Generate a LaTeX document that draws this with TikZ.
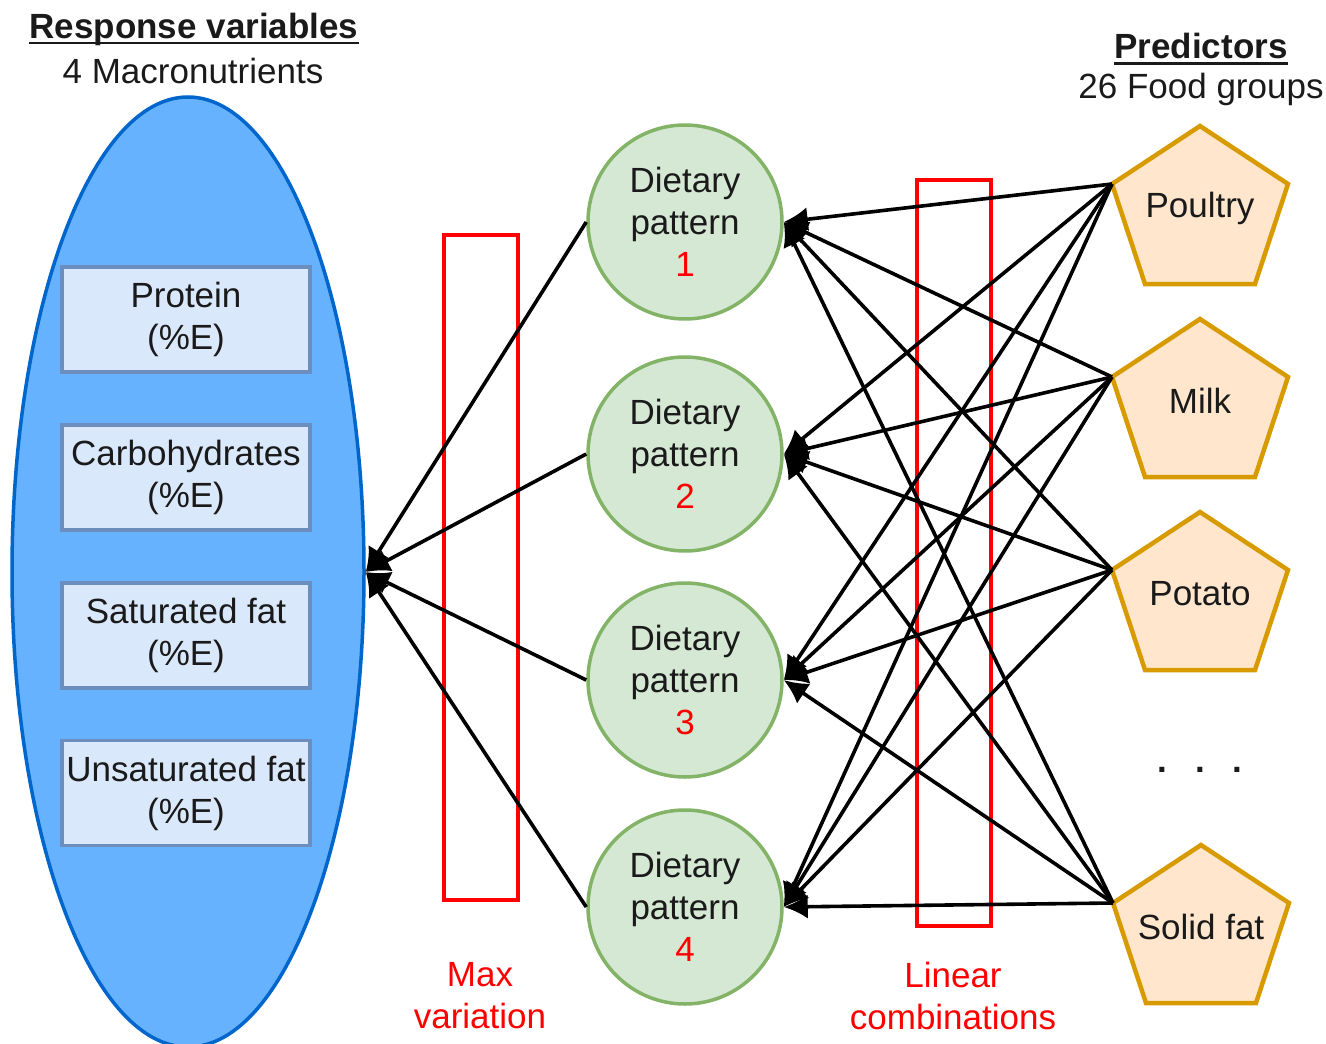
\documentclass[tikz,border=0pt]{standalone}
\usepackage{fontspec}
\setmainfont{Liberation Sans}
\usetikzlibrary{shapes.geometric,arrows.meta}
\definecolor{ellfill}{HTML}{66B2FF}
\definecolor{elldraw}{HTML}{0066CC}
\definecolor{boxfill}{HTML}{DAE8FC}
\definecolor{boxdraw}{HTML}{6C8EBF}
\definecolor{circfill}{HTML}{D5E8D4}
\definecolor{circdraw}{HTML}{82B366}
\definecolor{pentfill}{HTML}{FFE6CC}
\definecolor{pentdraw}{HTML}{D79B00}
\definecolor{txtcol}{HTML}{1A1A1A}
\begin{document}
\begin{tikzpicture}[x=1pt,y=-1pt,
  txt/.style={font=\fontsize{35}{42}\selectfont, text=txtcol, align=center, inner sep=0pt},
  respbox/.style={txt, draw=boxdraw, fill=boxfill, line width=3.5pt, minimum width=248pt, minimum height=105pt},
  dpnode/.style={txt, circle, draw=circdraw, fill=circfill, line width=3.5pt, minimum size=194pt},
  redbox/.style={draw=red, line width=4pt, inner sep=0pt},
  redlabel/.style={txt, text=red},
  edge/.style={line width=3.6pt, -{Latex[length=24pt,width=24pt]}},
  uline/.style={line width=2.5pt, draw=txtcol},
  pentstyle/.style={draw=pentdraw, fill=pentfill, line width=4.5pt, line join=miter},
  pent/.pic={
    \draw[pentstyle] (0,0) -- (88,58) -- (55,158) -- (-55,158) -- (-88,58) -- cycle;
    \coordinate (-w) at (-88,58);
    \node[txt] (-t) at (0,82) {#1};
  }]
\useasboundingbox (0,0) rectangle (1326,1044);
\clip (0,0) rectangle (1326,1044);

% headers
\node[txt] (resphead) at (194,29) {\bfseries Response variables};
\draw[uline] ([yshift=-5pt]resphead.base west) -- ([yshift=-5pt]resphead.base east);
\node[txt] (respsub) at (193,71) {4 Macronutrients};
\node[txt] (predhead) at (1201,46) {\bfseries Predictors};
\draw[uline] ([yshift=-5pt]predhead.base west) -- ([yshift=-5pt]predhead.base east);
\node[txt] (predsub) at (1201,89) {26 Food groups};

% response ellipse
\node[ellipse, draw=elldraw, fill=ellfill, line width=3.5pt, inner sep=0pt,
      minimum width=352pt, minimum height=950pt] (resp) at (188,572) {};
\node[respbox] (protein) at (186,319.5) {Protein\\(\%E)};
\node[respbox] (carb) at (186,477.5) {Carbohydrates\\(\%E)};
\node[respbox] (satfat) at (186,635.5) {Saturated fat\\(\%E)};
\node[respbox] (unsatfat) at (186,793) {Unsaturated fat\\(\%E)};

% red boxes
\node[redbox, minimum width=74pt, minimum height=665pt] (maxbox) at (481,567.5) {};
\node[redbox, minimum width=74pt, minimum height=746pt] (linbox) at (954,553) {};
\node[redlabel] (maxlab) at (480,996) {Max\\variation};
\node[redlabel] (linlab) at (953,996) {Linear\\combinations};

% dietary patterns
\node[dpnode] (dp1) at (685,222) {Dietary\\pattern\\\textcolor{red}{1}};
\node[dpnode] (dp2) at (685,454) {Dietary\\pattern\\\textcolor{red}{2}};
\node[dpnode] (dp3) at (685,680) {Dietary\\pattern\\\textcolor{red}{3}};
\node[dpnode] (dp4) at (685,907) {Dietary\\pattern\\\textcolor{red}{4}};

% predictors
\pic (poultry) at (1200,126) {pent=Poultry};
\pic (milk) at (1200,319) {pent=Milk};
\pic (potato) at (1200,512) {pent=Potato};
\pic (solidfat) at (1201,845) {pent=Solid fat};
\node[txt] (dots) at (1200,770) {\bfseries .\hspace{28pt}.\hspace{28pt}.};

% connectors
\foreach \d in {1,...,4}
  \draw[edge] (dp\d.west) -- (resp.east);
\foreach \p in {poultry,milk,potato,solidfat}
  \foreach \d in {1,...,4}
    \draw[edge] (\p-w) -- (dp\d.east);
\end{tikzpicture}
\end{document}
